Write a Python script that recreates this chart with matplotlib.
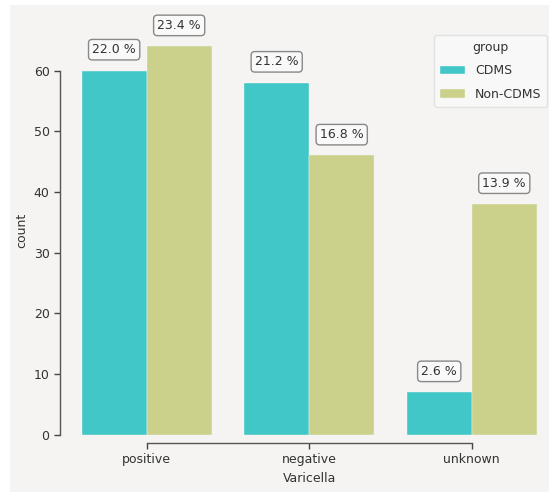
import matplotlib
matplotlib.use('Agg')
import matplotlib.pyplot as plt
import numpy as np
from matplotlib.patches import Rectangle

# data
categories = ['positive', 'negative', 'unknown']
groups = ['CDMS', 'Non-CDMS']
cdms_counts = [60, 58, 7]
noncdms_counts = [64, 46, 38]
yticks = [0, 10, 20, 30, 40, 50, 60]

colors = ['#41c7c7', '#cbd18b']
bg = '#f5f4f2'
txt = '#333333'

plt.rcParams['font.family'] = 'DejaVu Sans'
plt.rcParams['font.size'] = 9

fig = plt.figure(figsize=(5.49, 4.93), dpi=100, facecolor='white')
# grey panel (the screenshot has a white strip on the left/top)
fig.patches.append(Rectangle((10 / 549, 1 / 493), 1 - 10 / 549, 1 - 6 / 493,
                             transform=fig.transFigure, facecolor=bg,
                             edgecolor='none', zorder=-10))

ax = fig.add_axes([0.1191, 0.1183, 0.8882, 0.8273])
ax.set_facecolor(bg)

x = np.arange(len(categories))
width = 0.4
total = sum(cdms_counts) + sum(noncdms_counts)

bars = []
for i, (g, vals) in enumerate(zip(groups, [cdms_counts, noncdms_counts])):
    b = ax.bar(x + (i - 0.5) * width, vals, width, color=colors[i], label=g,
               edgecolor=bg, linewidth=0.3)
    bars.append(b)

# percentage labels above each bar
for b in bars:
    for rect in b:
        h = rect.get_height()
        ax.annotate('{:.1f} %'.format(100.0 * h / total),
                    xy=(rect.get_x() + rect.get_width() / 2, h),
                    xytext=(0, 15), textcoords='offset points',
                    ha='center', va='center', color=txt, fontsize=9,
                    bbox=dict(boxstyle='round,pad=0.3', fc='#f9f9f9',
                              ec='#888888', lw=1.0))

ax.set_xlim(-0.5, 2.5)
ax.set_ylim(0, 67.2)
ax.set_xticks(x)
ax.set_xticklabels(categories)
ax.set_yticks(yticks)
ax.tick_params(colors='#444444', labelcolor=txt, length=4, width=1)
ax.set_xlabel('Varicella', color=txt)
ax.set_ylabel('count', color=txt)

# despine with offset + trim
ax.spines['top'].set_visible(False)
ax.spines['right'].set_visible(False)
ax.spines['left'].set_position(('outward', 3.9))
ax.spines['bottom'].set_position(('outward', 6))
ax.spines['left'].set_bounds(0, 60)
ax.spines['bottom'].set_bounds(0, 2)
for s in ['left', 'bottom']:
    ax.spines[s].set_color('#555555')
    ax.spines[s].set_linewidth(1.0)

leg = ax.legend(title='group', loc='upper right',
                bbox_to_anchor=(547 / 549, 1 - 35 / 493),
                bbox_transform=fig.transFigure, borderaxespad=0,
                fontsize=9, title_fontsize=9, frameon=True, fancybox=True,
                labelspacing=0.85, borderpad=0.45)
leg.get_frame().set_facecolor('#fafafa')
leg.get_frame().set_edgecolor('#dddddd')
for t in leg.get_texts():
    t.set_color(txt)
leg.get_title().set_color(txt)

fig.savefig('out.png', dpi=100, facecolor=fig.get_facecolor())
